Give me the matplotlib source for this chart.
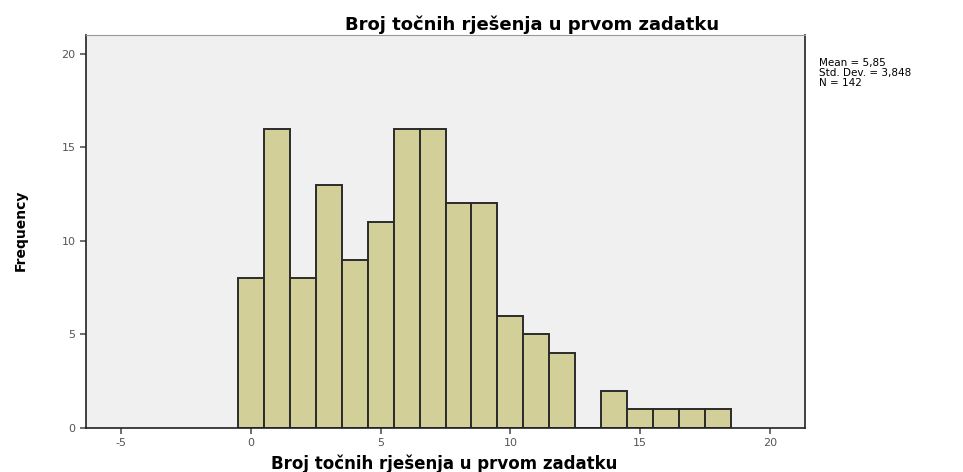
import numpy as np
import matplotlib
matplotlib.use('Agg')
import matplotlib.pyplot as plt

plt.rcParams['axes.unicode_minus'] = False

# ---------------- data ----------------
scores = [0, 1, 2, 3, 4, 5, 6, 7, 8, 9, 10, 11, 12, 13, 14, 15, 16, 17, 18]
counts = [8, 16, 8, 13, 9, 11, 16, 16, 12, 12, 6, 5, 4, 0, 2, 1, 1, 1, 1]
stats_text = ['Mean = 5,85', 'Std. Dev. = 3,848', 'N = 142']
title = 'Broj točnih rješenja u prvom zadatku'

# ---------------- plotting ----------------
fig = plt.figure(figsize=(9.63, 4.72), dpi=100)
ax = fig.add_axes([0.0893, 0.0932, 0.7467, 0.8327])
ax.set_facecolor('#f0f0f0')

ax.bar(scores, counts, width=1.0, color='#d3cf99', edgecolor='#2b2b2b', linewidth=1.4)

ax.set_xlim(-6.35, 21.35)
ax.set_ylim(0, 21)
ax.set_xticks([-5, 0, 5, 10, 15, 20])
ax.set_yticks([0, 5, 10, 15, 20])
ax.tick_params(labelsize=8, labelcolor='#555555', length=4, color='#555555', width=1.2)

for s in ['left', 'bottom', 'right']:
    ax.spines[s].set_color('#222222')
    ax.spines[s].set_linewidth(1.2)
ax.spines['top'].set_color('#999999')

# x label sits right at the bottom edge, like in the original
fig.text(0.461, 0.006, title, fontsize=12, fontweight='bold', ha='center', va='baseline')
fig.text(0.022, 0.512, 'Frequency', fontsize=10, fontweight='bold', rotation=90,
         ha='center', va='center')

fig.text(0.552, 0.948, title, fontsize=13, fontweight='bold', ha='center', va='center')
fig.text(0.85, 0.878, '\n'.join(stats_text), fontsize=7.5, va='top', ha='left', linespacing=1.0)

fig.savefig('out.png', dpi=100)
